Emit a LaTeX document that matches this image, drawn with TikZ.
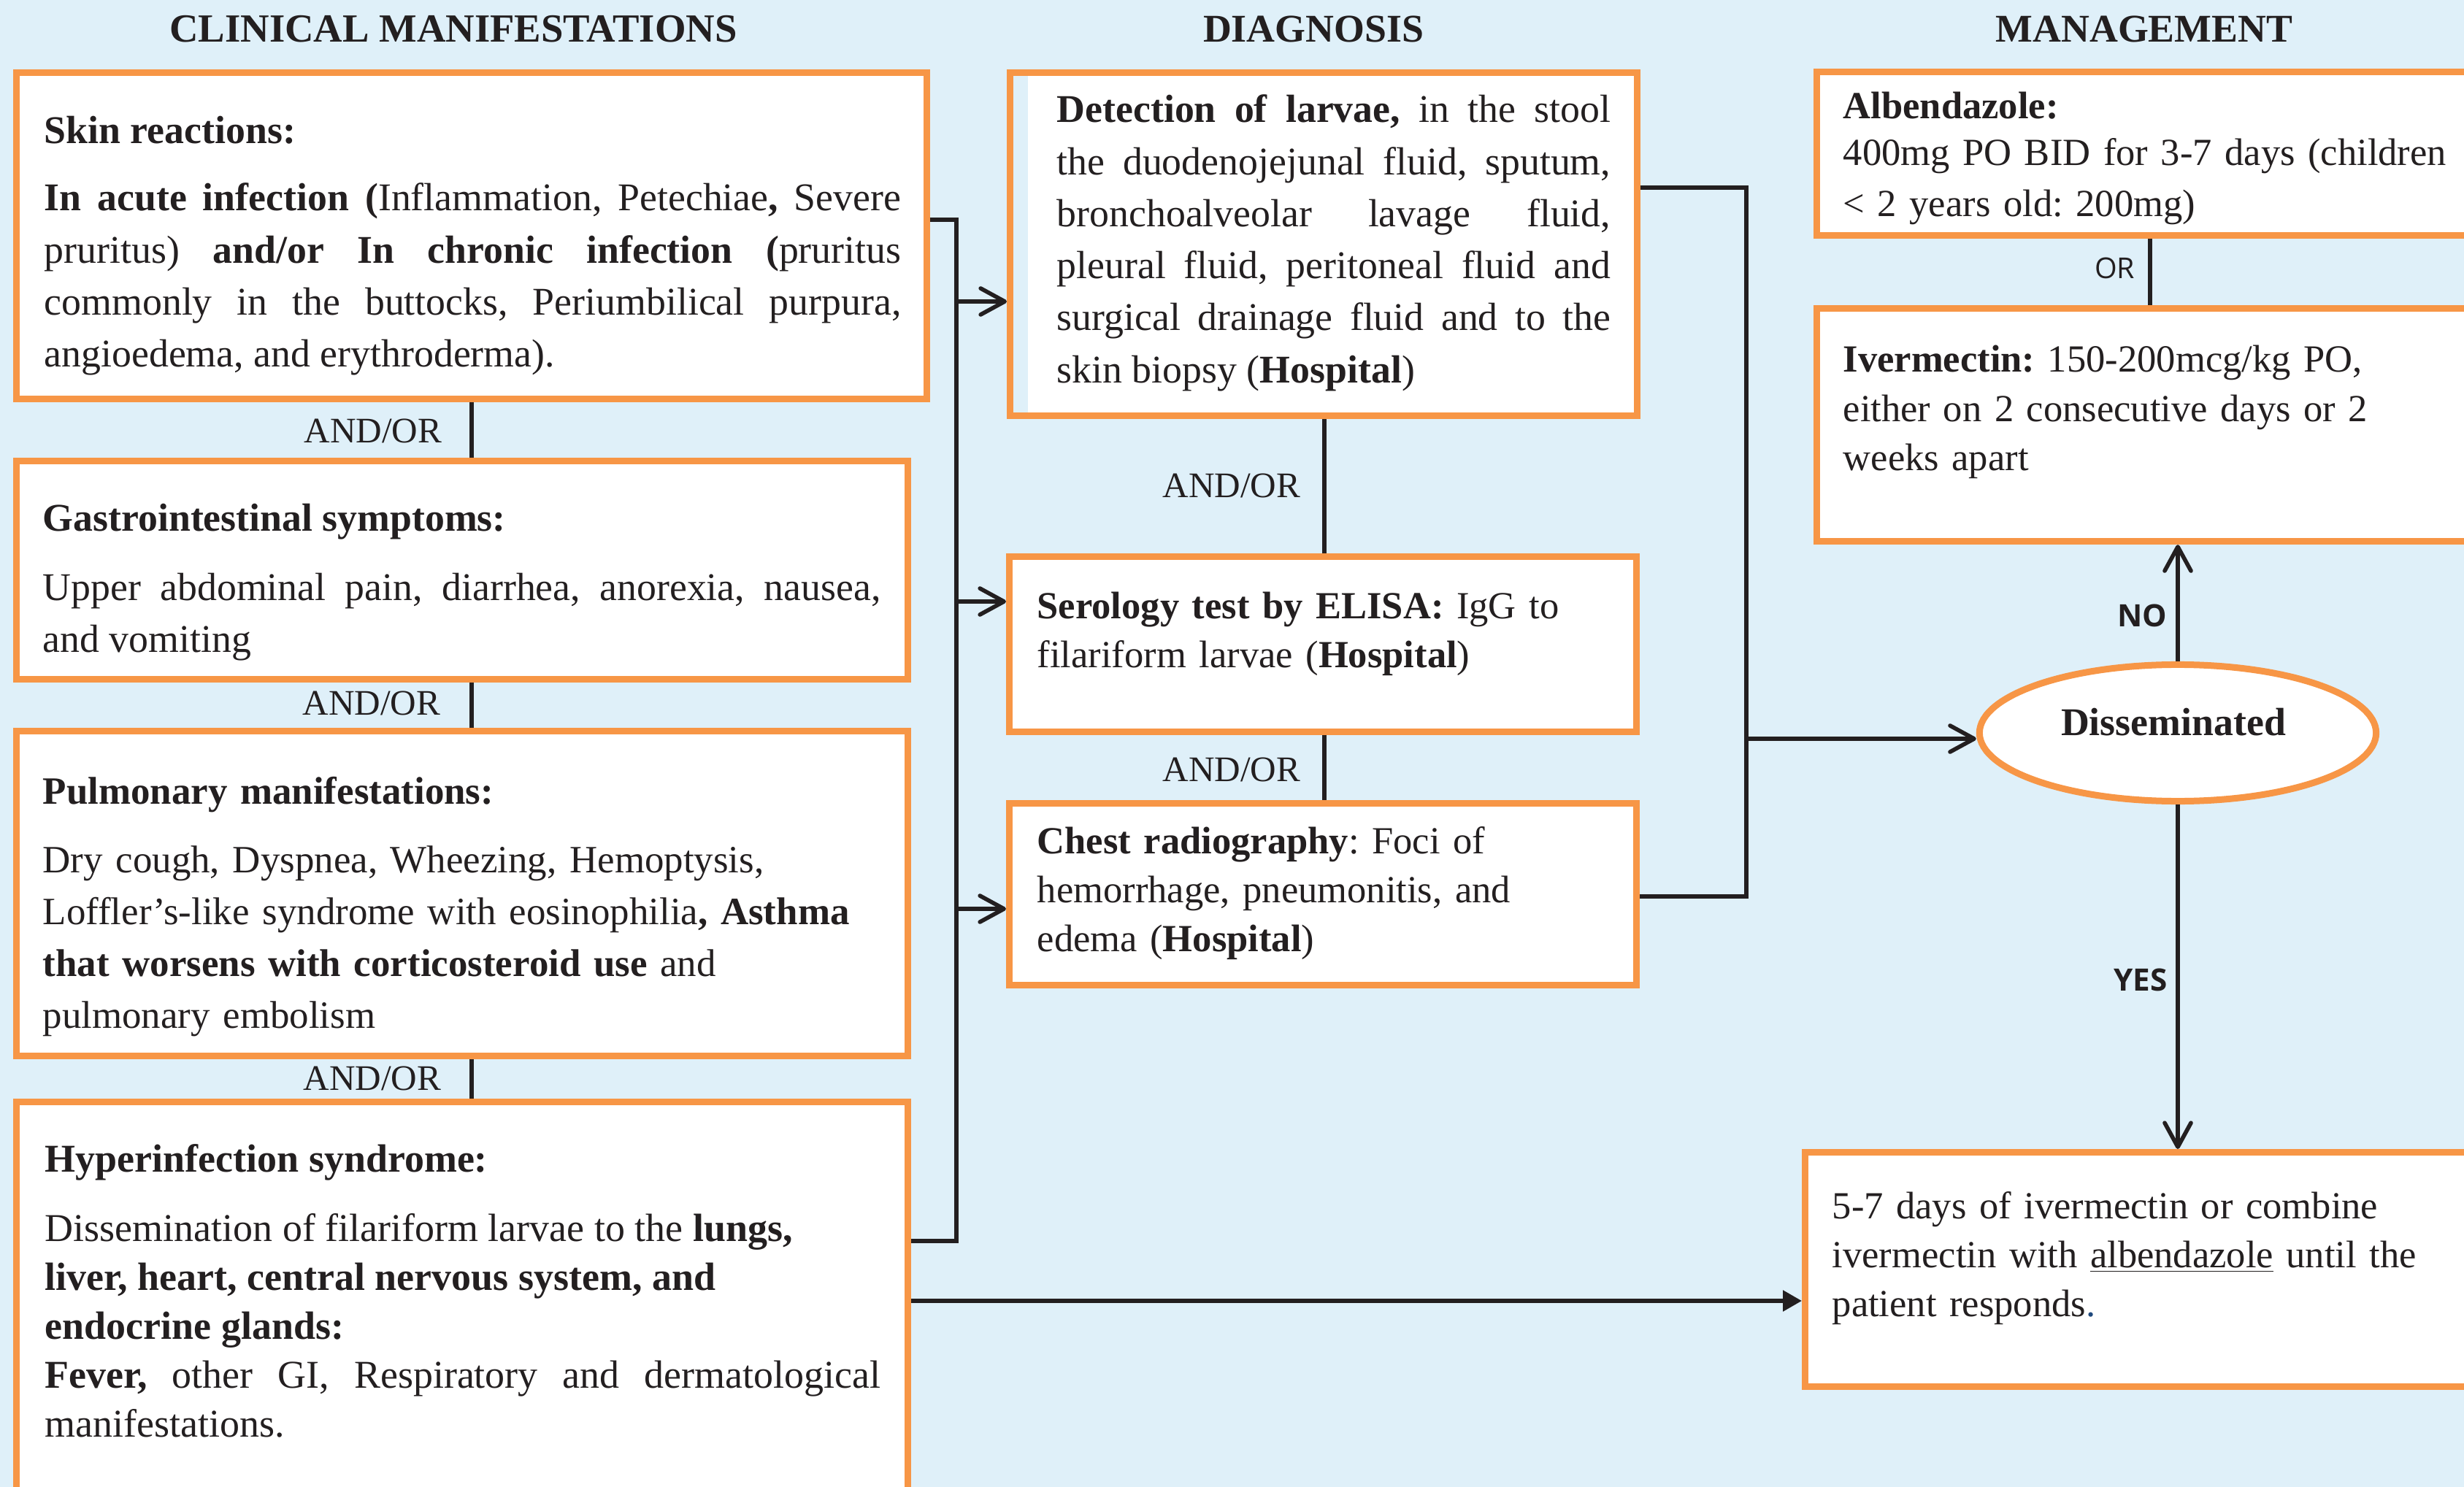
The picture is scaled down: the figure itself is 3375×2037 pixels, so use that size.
\documentclass[tikz,border=0pt]{standalone}
\usepackage{fontspec}
\setmainfont{Liberation Serif}
\newfontfamily\labelsans{Open Sans}
\usetikzlibrary{arrows.meta, shapes.geometric}
\frenchspacing

\definecolor{pagebg}{RGB}{223,240,249}
\definecolor{boxedge}{RGB}{247,150,70}
\definecolor{ink}{RGB}{35,31,32}
\definecolor{dotblue}{RGB}{31,73,125}

\tikzset{
  panel/.style={rectangle, draw=boxedge, line width=2.56pt, fill=white,
    inner sep=0pt, anchor=north west},
  decision/.style={ellipse, draw=boxedge, line width=2.56pt, fill=white,
    inner sep=0pt, minimum width=5.43cm, minimum height=1.87cm},
  body/.style={inner sep=0pt, anchor=base west, text=ink},
  wide/.style={font=\fontsize{15.3}{20.25}\selectfont},
  ragged/.style={font=\fontsize{15.05}{20.25}\selectfont},
  tight/.style={font=\fontsize{14.95}{19.1}\selectfont},
  colhead/.style={inner sep=0pt, anchor=base, text=ink,
    font=\fontsize{15.3}{18}\selectfont\bfseries},
  andor/.style={inner sep=0pt, anchor=base east, text=ink,
    font=\fontsize{14}{16}\selectfont},
  choice/.style={inner sep=0pt, anchor=base east, text=ink,
    font=\labelsans\fontsize{12}{14}\selectfont\bfseries},
  wire/.style={draw=ink, line width=1.6pt},
  barb/.style={wire, -{Straight Barb[length=3.3mm, width=3.6mm, round]}},
  solidtip/.style={wire, -{Triangle[length=2.6mm, width=2.8mm]}},
}

\begin{document}
\begin{tikzpicture}[x=0.01cm, y=-0.01cm]
  \useasboundingbox (0,0) rectangle (3375,2037);
  \clip (0,0) rectangle (3375,2037);
  \fill[pagebg] (0,0) rectangle (3375,2037);

  % column headings
  \node[colhead, font=\fontsize{15.55}{18}\selectfont\bfseries] (hcm) at (621,58) {CLINICAL MANIFESTATIONS};
  \node[colhead] (hdx) at (1799,58) {DIAGNOSIS};
  \node[colhead] (hmg) at (2937,58) {MANAGEMENT};

  % clinical manifestation boxes
  \node[panel, minimum width=12.46cm, minimum height=4.47cm] (skin) at (18,95) {};
  \node[panel, minimum width=12.20cm, minimum height=2.99cm] (gi) at (18,627) {};
  \node[panel, minimum width=12.20cm, minimum height=4.45cm] (pulm) at (18,997) {};
  \node[panel, minimum width=12.20cm, minimum height=6.10cm] (hyper) at (18,1505) {};

  % diagnosis boxes
  \node[panel, minimum width=8.58cm, minimum height=4.70cm] (detect) at (1379,95) {};
  \fill[pagebg] ([xshift=0.09cm, yshift=-0.09cm]detect.north west)
    rectangle ([xshift=0.29cm, yshift=0.09cm]detect.south west);
  \node[panel, minimum width=8.58cm, minimum height=2.40cm] (sero) at (1378,758) {};
  \node[panel, minimum width=8.58cm, minimum height=2.49cm] (chest) at (1378,1096) {};

  % management boxes
  \node[panel, minimum width=9.27cm, minimum height=2.24cm] (albe) at (2484,94) {};
  \node[panel, minimum width=9.27cm, minimum height=3.19cm] (iver) at (2484,418) {};
  \node[panel, minimum width=9.43cm, minimum height=3.21cm] (combo) at (2468,1574) {};
  \node[decision] (dissem) at (2983,1004) {};

  % box texts
  \node[body, wide, text width=11.73cm, align=justify] (skintxt) at (60,197)
    {\textbf{Skin reactions:}\\[5.9pt]
     \textbf{In acute infection (}Inflammation, Petechiae\textbf{,} Severe\linebreak
     pruritus) \textbf{and/or In chronic infection (}pruritus\linebreak
     commonly in the buttocks, Periumbilical purpura,\linebreak
     angioedema, and erythroderma).};
  \node[body, wide, text width=11.47cm, align=justify] (gitxt) at (58,728)
    {\textbf{Gastrointestinal symptoms:}\\[6.5pt]
     Upper abdominal pain, diarrhea, anorexia, nausea,\linebreak
     and vomiting};
  \node[body, ragged, text width=11.50cm, align=left] (pulmtxt) at (58,1101)
    {\textbf{Pulmonary manifestations:}\\[6.5pt]
     Dry cough, Dyspnea, Wheezing, Hemoptysis,\\
     Loffler’s-like syndrome with eosinophilia\textbf{, Asthma}\\
     \textbf{that worsens with corticosteroid use} and\\
     pulmonary embolism};
  \node[body, font=\fontsize{15.35}{19.1}\selectfont, text width=11.44cm, align=justify] (hypertxt) at (61,1605)
    {\textbf{Hyperinfection syndrome:}\\[8pt]
     Dissemination of filariform larvae to the \textbf{lungs,}\\
     \textbf{liver, heart, central nervous system, and}\\
     \textbf{endocrine glands:}\\
     \textbf{Fever,} other GI, Respiratory and dermatological\linebreak
     manifestations.};

  \node[body, wide, text width=7.58cm, align=justify] (detecttxt) at (1447,168)
    {\textbf{Detection of larvae,} in the stool\linebreak
     the duodenojejunal fluid, sputum,\linebreak
     bronchoalveolar lavage fluid,\linebreak
     pleural fluid, peritoneal fluid and\linebreak
     surgical drainage fluid and to the\linebreak
     skin biopsy (\textbf{Hospital})};
  \node[body, tight, text width=7.9cm, align=left] (serotxt) at (1420,847)
    {\textbf{Serology test by ELISA:} IgG to\\
     filariform larvae (\textbf{Hospital})};
  \node[body, tight, text width=7.9cm, align=left] (chesttxt) at (1420,1169)
    {\textbf{Chest radiography}: Foci of\\
     hemorrhage, pneumonitis, and\\
     edema (\textbf{Hospital})};

  \node[body, tight, text width=8.6cm, align=left] (albetxt) at (2524,163)
    {\textbf{Albendazole:}\\[-0.9pt]
     400mg PO BID for 3-7 days (children\\[0.6pt]
     < 2 years old: 200mg)};
  \node[body, tight, text width=8.6cm, align=left] (ivertxt) at (2524,510)
    {\textbf{Ivermectin:} 150-200mcg/kg PO,\\
     either on 2 consecutive days or 2\\
     weeks apart};
  \node[body, tight, text width=8.6cm, align=left] (combotxt) at (2509,1669)
    {5-7 days of ivermectin or combine\\
     ivermectin with \underline{albendazole} until the\\
     patient responds{\color{dotblue}.}};
  \node[inner sep=0pt, anchor=base, text=ink,
    font=\fontsize{15.3}{18}\selectfont\bfseries] (dissemtxt) at (2977,1007) {Disseminated};

  % AND/OR links in the clinical column
  \coordinate (cmx) at (646,0);
  \draw[wire] (skin.south -| cmx) -- (gi.north -| cmx);
  \draw[wire] (gi.south -| cmx) -- (pulm.north -| cmx);
  \draw[wire] (pulm.south -| cmx) -- (hyper.north -| cmx);
  \node[andor] (ao1) at (606,607) {AND/OR};
  \node[andor] (ao2) at (604,979) {AND/OR};
  \node[andor] (ao3) at (605,1493) {AND/OR};

  % AND/OR links in the diagnosis column
  \coordinate (dgx) at (1814,0);
  \draw[wire] (detect.south -| dgx) -- (sero.north -| dgx);
  \draw[wire] (sero.south -| dgx) -- (chest.north -| dgx);
  \node[andor] (ao4) at (1782,682) {AND/OR};
  \node[andor] (ao5) at (1782,1070) {AND/OR};

  % left bus: symptoms feed every test
  \coordinate (lbtop) at (1310,301);
  \coordinate (lbbot) at (1310,1700);
  \draw[wire, line join=miter] (skin.east |- lbtop) -- (lbtop) -- (lbbot) -- (hyper.east |- lbbot);
  \coordinate (lbd1) at (1310,413);
  \coordinate (lbd2) at (1310,824);
  \coordinate (lbd3) at (1310,1245);
  \draw[barb] (lbd1) -- (detect.west |- lbd1);
  \draw[barb] (lbd2) -- (sero.west |- lbd2);
  \draw[barb] (lbd3) -- (chest.west |- lbd3);

  % right bus: test results to the decision
  \coordinate (rbtop) at (2392,257);
  \coordinate (rbbot) at (2392,1228);
  \draw[wire, line join=miter] (detect.east |- rbtop) -- (rbtop) -- (rbbot) -- (chest.east |- rbbot);
  \coordinate (rbmid) at (2392,1012);
  \draw[barb] (rbmid) -- (rbmid -| dissem.west);

  % management links
  \coordinate (orx) at (2945,0);
  \draw[wire] (albe.south -| orx) -- (iver.north -| orx);
  \node[choice, font=\labelsans\fontsize{11.2}{14}\selectfont] (ortxt) at (2925,382) {OR};
  \draw[barb] (dissem.north) -- (dissem.north |- iver.south);
  \draw[barb] (dissem.south) -- (dissem.south |- combo.north);
  \node[choice] (notxt) at (2969,859) {NO};
  \node[choice] (yestxt) at (2969,1357) {YES};

  % hyperinfection goes straight to prolonged treatment
  \coordinate (hyout) at (1247,1782);
  \draw[solidtip] (hyper.east |- hyout) -- (combo.west |- hyout);
\end{tikzpicture}
\end{document}
